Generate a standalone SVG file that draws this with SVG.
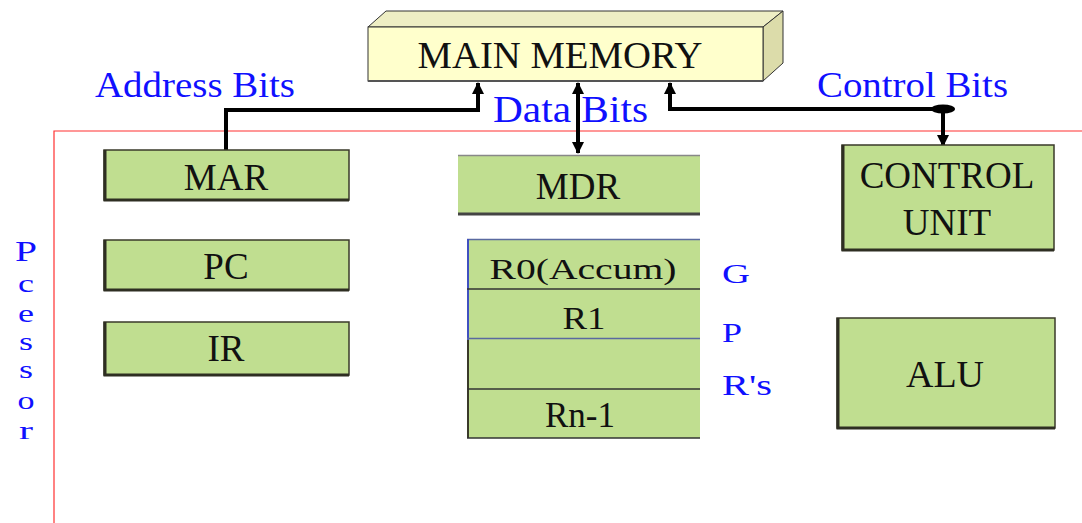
<svg xmlns="http://www.w3.org/2000/svg" width="1082" height="523" viewBox="0 0 1082 523">
<style>
.box{fill:#c0de90;stroke:#3a3a2a;stroke-width:1.5}
.shadow{stroke:#2e2e22;stroke-width:3;fill:none}
.t{font-family:"Liberation Serif","Times New Roman",serif;fill:#111;text-anchor:middle}
.b{font-family:"Liberation Serif","Times New Roman",serif;fill:#1010ff}
.wire{fill:none;stroke:#000;stroke-width:4}
.red{stroke:#ff3030;stroke-width:1.2;fill:none}
</style>
<defs>
<marker id="ah" markerUnits="userSpaceOnUse" markerWidth="14" markerHeight="12" refX="11" refY="6" orient="auto-start-reverse" viewBox="0 0 12 12">
<path d="M0,0 L12,6 L0,12 Z" fill="#000"/>
</marker>
</defs>
<rect width="1082" height="523" fill="#fff"/>
<g id="frame">
<path class="red" d="M54,523 V131 H1082"/>
</g>
<g id="main-memory">
<polygon points="368,27 386,11 783,11 763,27" fill="#eeeec4" stroke="#333" stroke-width="1"/>
<polygon points="763,27 783,11 783,63 763,81" fill="#dcdcaa" stroke="#333" stroke-width="1"/>
<rect x="368" y="27" width="395" height="54" fill="#ffffcc" stroke="#333" stroke-width="1"/>
<line x1="368" y1="81" x2="763" y2="81" stroke="#555" stroke-width="2"/>
<text class="t" x="560" y="68" font-size="38" textLength="285" lengthAdjust="spacingAndGlyphs">MAIN MEMORY</text>
</g>
<g id="connectors">
<path class="wire" d="M226,150 V110 H478 V83" marker-end="url(#ah)"/>
<path class="wire" d="M578,83 V153" marker-start="url(#ah)" marker-end="url(#ah)"/>
<path class="wire" d="M943,109 H670 V83" marker-end="url(#ah)"/>
<ellipse cx="943" cy="109" rx="12" ry="4.5" fill="#000"/>
<path class="wire" d="M943,109 V146" marker-end="url(#ah)"/>
</g>
<g id="labels">
<text class="b" x="95" y="97" font-size="36" textLength="200" lengthAdjust="spacingAndGlyphs">Address Bits</text>
<text class="b" x="493" y="122" font-size="37" textLength="155" lengthAdjust="spacingAndGlyphs">Data Bits</text>
<text class="b" x="817" y="97" font-size="36" textLength="191" lengthAdjust="spacingAndGlyphs">Control Bits</text>
</g>
<g id="processor-label" class="b" font-size="25" text-anchor="middle" lengthAdjust="spacingAndGlyphs">
<text x="26" y="261" font-size="29" textLength="22" lengthAdjust="spacingAndGlyphs">P</text>
<text x="26" y="292" textLength="16" lengthAdjust="spacingAndGlyphs">c</text>
<text x="26" y="322" textLength="16" lengthAdjust="spacingAndGlyphs">e</text>
<text x="26" y="350" textLength="14" lengthAdjust="spacingAndGlyphs">s</text>
<text x="26" y="378" textLength="14" lengthAdjust="spacingAndGlyphs">s</text>
<text x="26" y="409" textLength="17" lengthAdjust="spacingAndGlyphs">o</text>
<text x="26" y="439" textLength="14" lengthAdjust="spacingAndGlyphs">r</text>
</g>
<g id="mar">
<rect class="box" x="104" y="150" width="245" height="50"/>
<path class="shadow" d="M105,150 V200 H349"/>
<text class="t" x="226" y="190" font-size="37">MAR</text>
</g>
<g id="pc">
<rect class="box" x="104" y="240" width="245" height="50"/>
<path class="shadow" d="M105,240 V290 H349"/>
<text class="t" x="226" y="279" font-size="37">PC</text>
</g>
<g id="ir">
<rect class="box" x="104" y="322" width="245" height="53"/>
<path class="shadow" d="M105,322 V375 H349"/>
<text class="t" x="226" y="361" font-size="37">IR</text>
</g>
<g id="mdr">
<rect x="458" y="155" width="242" height="60" fill="#c0de90"/>
<line x1="458" y1="155.5" x2="700" y2="155.5" stroke="#888" stroke-width="1.5"/>
<line x1="458" y1="214" x2="700" y2="214" stroke="#444" stroke-width="3"/>
<text class="t" x="578" y="199" font-size="37">MDR</text>
</g>
<g id="gpr">
<rect x="467" y="239" width="233" height="199" fill="#c0de90"/>
<line x1="467" y1="239.5" x2="700" y2="239.5" stroke="#5a6aa0" stroke-width="1.5"/>
<line x1="468" y1="239" x2="468" y2="438" stroke="#3a3a2a" stroke-width="2"/>
<line x1="468" y1="239" x2="468" y2="340" stroke="#4050c0" stroke-width="2"/>
<line x1="467" y1="289" x2="700" y2="289" stroke="#333" stroke-width="1.5"/>
<line x1="467" y1="338.5" x2="700" y2="338.5" stroke="#5a6aa0" stroke-width="1.5"/>
<line x1="467" y1="389" x2="700" y2="389" stroke="#333" stroke-width="1.5"/>
<line x1="467" y1="438" x2="700" y2="438" stroke="#333" stroke-width="1.5"/>
<text class="t" x="583" y="279" font-size="30" textLength="187" lengthAdjust="spacingAndGlyphs">R0(Accum)</text>
<text class="t" x="584" y="329" font-size="31" textLength="43" lengthAdjust="spacingAndGlyphs">R1</text>
<text class="t" x="580" y="427" font-size="35">Rn-1</text>
<text class="b" x="722" y="283" font-size="28" textLength="28" lengthAdjust="spacingAndGlyphs">G</text>
<text class="b" x="722" y="342" font-size="28" textLength="20" lengthAdjust="spacingAndGlyphs">P</text>
<text class="b" x="722" y="395" font-size="29" textLength="50" lengthAdjust="spacingAndGlyphs">R's</text>
</g>
<g id="control-unit">
<rect class="box" x="842" y="145" width="212" height="105"/>
<path class="shadow" d="M843,145 V250 H1054"/>
<text class="t" x="947" y="188" font-size="37">CONTROL</text>
<text class="t" x="947" y="235" font-size="37">UNIT</text>
</g>
<g id="alu">
<rect class="box" x="837" y="318" width="218" height="110"/>
<path class="shadow" d="M838,318 V428 H1055"/>
<text class="t" x="945" y="387" font-size="38">ALU</text>
</g>
</svg>
